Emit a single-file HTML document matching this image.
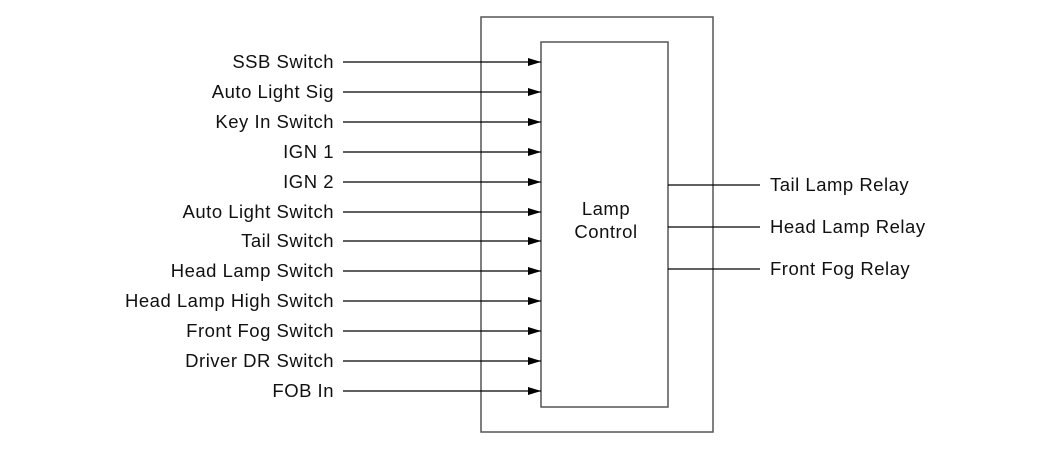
<!DOCTYPE html>
<html><head><style>body{margin:0;background:#fff}</style></head><body>
<svg width="1050" height="450" xmlns="http://www.w3.org/2000/svg" font-family="Liberation Sans, Arial, sans-serif" font-size="18.5" letter-spacing="0.5" fill="#111">
<defs><marker id="a" markerWidth="13" markerHeight="8" refX="13" refY="4" orient="auto" markerUnits="userSpaceOnUse"><path d="M0,0 L13,4 L0,8 z" fill="#000"/></marker></defs>
<rect x="481" y="17" width="232" height="415" fill="none" stroke="#555" stroke-width="1.5"/>
<rect x="541" y="42" width="127" height="365" fill="#fff" stroke="#555" stroke-width="1.5"/>
<g stroke="#000" stroke-width="1.2" marker-end="url(#a)">
<line x1="343" y1="62" x2="541" y2="62"/>
<line x1="343" y1="92" x2="541" y2="92"/>
<line x1="343" y1="122" x2="541" y2="122"/>
<line x1="343" y1="152" x2="541" y2="152"/>
<line x1="343" y1="182" x2="541" y2="182"/>
<line x1="343" y1="212" x2="541" y2="212"/>
<line x1="343" y1="241" x2="541" y2="241"/>
<line x1="343" y1="271" x2="541" y2="271"/>
<line x1="343" y1="301" x2="541" y2="301"/>
<line x1="343" y1="331" x2="541" y2="331"/>
<line x1="343" y1="361" x2="541" y2="361"/>
<line x1="343" y1="391" x2="541" y2="391"/>
</g>
<g text-anchor="end">
<text x="334" y="68">SSB Switch</text>
<text x="334" y="98">Auto Light Sig</text>
<text x="334" y="128">Key In Switch</text>
<text x="334" y="158">IGN 1</text>
<text x="334" y="188">IGN 2</text>
<text x="334" y="218">Auto Light Switch</text>
<text x="334" y="247">Tail Switch</text>
<text x="334" y="277">Head Lamp Switch</text>
<text x="334" y="307">Head Lamp High Switch</text>
<text x="334" y="337">Front Fog Switch</text>
<text x="334" y="367">Driver DR Switch</text>
<text x="334" y="397">FOB In</text>
</g>
<g stroke="#000" stroke-width="1.2">
<line x1="668" y1="185" x2="760" y2="185"/>
<line x1="668" y1="227" x2="760" y2="227"/>
<line x1="668" y1="269" x2="760" y2="269"/>
</g>
<text x="770" y="191">Tail Lamp Relay</text>
<text x="770" y="233">Head Lamp Relay</text>
<text x="770" y="275">Front Fog Relay</text>
<text x="606" y="215" text-anchor="middle">Lamp</text>
<text x="606" y="238" text-anchor="middle">Control</text>
</svg>
</body></html>
